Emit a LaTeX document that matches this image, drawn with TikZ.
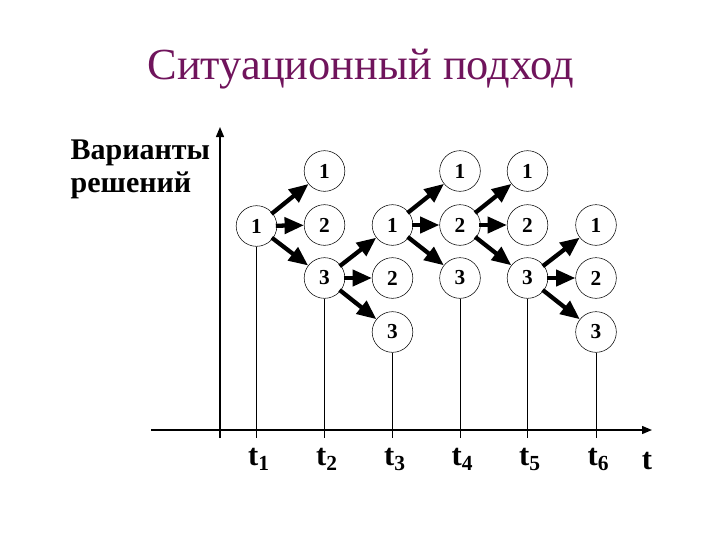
\documentclass[tikz,border=0pt]{standalone}
\usepackage{fontspec}
\setmainfont{Liberation Serif}
\usetikzlibrary{arrows.meta}
\definecolor{titlepurple}{RGB}{112,20,92}
\tikzset{
  variant/.style={draw, circle, line width=0.4pt, minimum size=30.5pt, inner sep=0pt, font=\bfseries\fontsize{16}{16}\selectfont},
  branch/.style={line width=3.2pt, -{Triangle[length=14.5pt,width=12pt]}, shorten <=-1pt},
  timeline/.style={line width=0.7pt},
  axis/.style={line width=1pt, -{Triangle[length=7.5pt,width=6pt]}},
  tlabel/.style={font=\bfseries\fontsize{23}{23}\selectfont}
}
\begin{document}
\begin{tikzpicture}[x=0.75pt,y=0.75pt,yscale=-1,xscale=1]
        \useasboundingbox (0,0) rectangle (720,540);
        % title and axis caption
        \node (title) [anchor=base, text=titlepurple, font=\fontsize{33.3}{33.3}\selectfont] at (361,79) {Ситуационный подход};
        \node (caption) [anchor=north west, align=left, font=\bfseries\fontsize{22.5}{24.5}\selectfont] at (66,135) {Варианты\\решений};
        % axes
        \coordinate (yfoot) at (220,438);
        \coordinate (ytop) at (220,127);
        \coordinate (xleft) at (151,430);
        \coordinate (xright) at (652,430);
        \draw [axis] (yfoot) -- (ytop);
        \draw [axis] (xleft) -- (xright);
        % variants at t1 ... t6
        \node (v11) [variant] at (256.5,226) {1};
        \node (v21) [variant] at (324.5,171) {1};
        \node (v22) [variant] at (324.5,225) {2};
        \node (v23) [variant] at (324.5,278) {3};
        \node (v31) [variant] at (392.5,225) {1};
        \node (v32) [variant] at (392.5,278) {2};
        \node (v33) [variant] at (392.5,332) {3};
        \node (v41) [variant] at (460,171) {1};
        \node (v42) [variant] at (460,225) {2};
        \node (v43) [variant] at (460,278) {3};
        \node (v51) [variant] at (527.5,171) {1};
        \node (v52) [variant] at (527.5,225) {2};
        \node (v53) [variant] at (527.5,278) {3};
        \node (v61) [variant] at (596,225) {1};
        \node (v62) [variant] at (596,278) {2};
        \node (v63) [variant] at (596,332) {3};
        % branching
        \draw [branch] (v11) -- (v21);
        \draw [branch] (v11) -- (v22);
        \draw [branch] (v11) -- (v23);
        \draw [branch] (v23) -- (v31);
        \draw [branch] (v23) -- (v32);
        \draw [branch] (v23) -- (v33);
        \draw [branch] (v31) -- (v41);
        \draw [branch] (v31) -- (v42);
        \draw [branch] (v31) -- (v43);
        \draw [branch] (v42) -- (v51);
        \draw [branch] (v42) -- (v52);
        \draw [branch] (v42) -- (v53);
        \draw [branch] (v53) -- (v61);
        \draw [branch] (v53) -- (v62);
        \draw [branch] (v53) -- (v63);
        % moments of time
        \coordinate (f1) at (256.5,438);
        \coordinate (f2) at (324.5,438);
        \coordinate (f3) at (392.5,438);
        \coordinate (f4) at (460,438);
        \coordinate (f5) at (527.5,438);
        \coordinate (f6) at (596,438);
        \draw [timeline] (v11.south) -- (f1);
        \draw [timeline] (v23.south) -- (f2);
        \draw [timeline] (v33.south) -- (f3);
        \draw [timeline] (v43.south) -- (f4);
        \draw [timeline] (v53.south) -- (f5);
        \draw [timeline] (v63.south) -- (f6);
        \node (t1) [tlabel] at (259,459) {t\textsubscript{1}};
        \node (t2) [tlabel] at (327,459) {t\textsubscript{2}};
        \node (t3) [tlabel] at (395,459) {t\textsubscript{3}};
        \node (t4) [tlabel] at (462.5,459) {t\textsubscript{4}};
        \node (t5) [tlabel] at (530,459) {t\textsubscript{5}};
        \node (t6) [tlabel] at (598.5,459) {t\textsubscript{6}};
        \node (t) [tlabel] at (647,461) {t};
    \end{tikzpicture}
\end{document}
